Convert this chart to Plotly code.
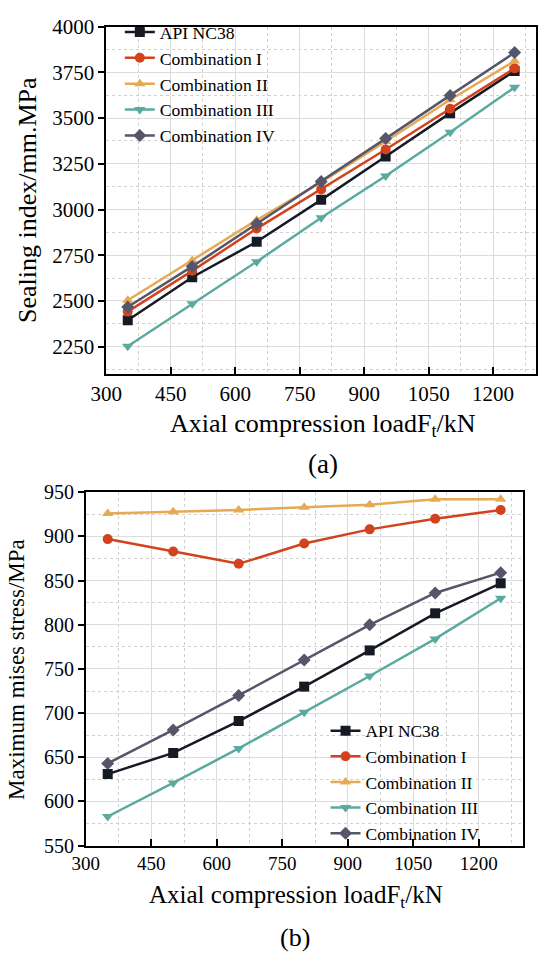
import plotly.graph_objects as go

# ---------------- data ----------------
loads = [350, 500, 650, 800, 950, 1100, 1250]
series_names = ["API NC38", "Combination I", "Combination II", "Combination III", "Combination IV"]

seal_api = [2395, 2630, 2824, 3053, 3290, 3527, 3758]
seal_c1 = [2442, 2665, 2896, 3110, 3328, 3551, 3772]
seal_c2 = [2504, 2721, 2942, 3150, 3372, 3600, 3812]
seal_c3 = [2253, 2485, 2715, 2955, 3183, 3423, 3668]
seal_c4 = [2467, 2689, 2922, 3154, 3388, 3624, 3858]

mises_api = [631, 655, 691, 730, 771, 813, 847]
mises_c1 = [897, 883, 869, 892, 908, 920, 930]
mises_c2 = [926, 928, 930, 933, 936, 942, 942]
mises_c3 = [583, 621, 660, 701, 742, 784, 830]
mises_c4 = [643, 681, 720, 760, 800, 836, 859]

x_ticks = [300, 450, 600, 750, 900, 1050, 1200]
seal_ticks = [2250, 2500, 2750, 3000, 3250, 3500, 3750, 4000]
mises_ticks = [550, 600, 650, 700, 750, 800, 850, 900, 950]

colors = ["#161a24", "#d2431d", "#e6aa52", "#5aaa9f", "#56566b"]
symbols = ["square", "circle", "triangle-up", "triangle-down", "diamond"]

FONT = "Liberation Serif"

fig = go.Figure()

seal_all = [seal_api, seal_c1, seal_c2, seal_c3, seal_c4]
mises_all = [mises_api, mises_c1, mises_c2, mises_c3, mises_c4]

for i, name in enumerate(series_names):
    fig.add_trace(go.Scatter(
        x=loads, y=seal_all[i], name=name, mode="lines+markers",
        line=dict(color=colors[i], width=2.5),
        marker=dict(symbol=symbols[i], size=10, color=colors[i]),
        xaxis="x", yaxis="y", legend="legend"))
for i, name in enumerate(series_names):
    fig.add_trace(go.Scatter(
        x=loads, y=mises_all[i], name=name, mode="lines+markers",
        line=dict(color=colors[i], width=2.5),
        marker=dict(symbol=symbols[i], size=10, color=colors[i]),
        xaxis="x2", yaxis="y2", legend="legend2"))

W, H = 539, 965

def px_x(p):
    return p / W

def px_y(p):
    return 1 - p / H

common_x = dict(
    range=[300, 1300], tickvals=x_ticks, ticks="inside", ticklen=7, tickwidth=1.5,
    tickcolor="black", showline=True, linecolor="black", linewidth=1.8, mirror=True,
    showgrid=True, gridcolor="#dcdcdc", gridwidth=1, zeroline=False,
    minor=dict(dtick=75, tick0=300, showgrid=True, gridcolor="#d0d0d0", griddash="dot", gridwidth=1, ticks=""),
)
common_y = dict(
    ticks="outside", ticklen=6, tickwidth=1.5, tickcolor="black",
    showline=True, linecolor="black", linewidth=1.8, mirror=True,
    showgrid=True, gridcolor="#dcdcdc", gridwidth=1, zeroline=False,
)

fig.update_layout(
    width=W, height=H, margin=dict(l=0, r=0, t=0, b=0),
    paper_bgcolor="white", plot_bgcolor="white",
    font=dict(family=FONT, color="black"),
    showlegend=True,
    xaxis=dict(**common_x, domain=[px_x(93), px_x(536)], anchor="y",
               tickfont=dict(size=21, family=FONT)),
    yaxis=dict(**common_y, domain=[px_y(371), px_y(15)], anchor="x",
               range=[2100, 4000], tickvals=seal_ticks,
               minor=dict(dtick=125, tick0=2125, showgrid=True, gridcolor="#d0d0d0", griddash="dot", gridwidth=1, ticks=""),
               tickfont=dict(size=21, family=FONT)),
    xaxis2=dict(**common_x, domain=[px_x(72), px_x(522)], anchor="y2",
                tickfont=dict(size=19, family=FONT)),
    yaxis2=dict(**common_y, domain=[px_y(854), px_y(492)], anchor="x2",
                range=[550, 950], tickvals=mises_ticks,
                minor=dict(dtick=25, tick0=575, showgrid=True, gridcolor="#d0d0d0", griddash="dot", gridwidth=1, ticks=""),
                tickfont=dict(size=20, family=FONT)),
    legend=dict(x=px_x(107), y=px_y(2), xanchor="left", yanchor="top",
                bgcolor="rgba(0,0,0,0)", font=dict(size=17.6, family=FONT),
                itemwidth=30, tracegroupgap=0),
    legend2=dict(x=px_x(319), y=px_y(718), xanchor="left", yanchor="top",
                 bgcolor="rgba(0,0,0,0)", font=dict(size=17.4, family=FONT),
                 itemwidth=30, tracegroupgap=0),
)

annotations = [
    dict(text="Sealing index/mm.MPa", x=px_x(12), y=px_y(193), textangle=-90,
         font=dict(size=26, family=FONT)),
    dict(text="Axial compression loadF<sub>t</sub>/kN", x=px_x(316), y=px_y(423),
         font=dict(size=26, family=FONT)),
    dict(text="(a)", x=px_x(316), y=px_y(463), font=dict(size=27, family=FONT)),
    dict(text="Maximum mises stress/MPa", x=px_x(1), y=px_y(673), textangle=-90,
         font=dict(size=23, family=FONT)),
    dict(text="Axial compression loadF<sub>t</sub>/kN", x=px_x(289), y=px_y(906),
         font=dict(size=25, family=FONT)),
    dict(text="(b)", x=px_x(288), y=px_y(948), font=dict(size=26, family=FONT)),
]
for a in annotations:
    a.update(xref="paper", yref="paper", showarrow=False, xanchor="center", yanchor="middle")
fig.update_layout(annotations=annotations)

fig.write_html("out.html")
